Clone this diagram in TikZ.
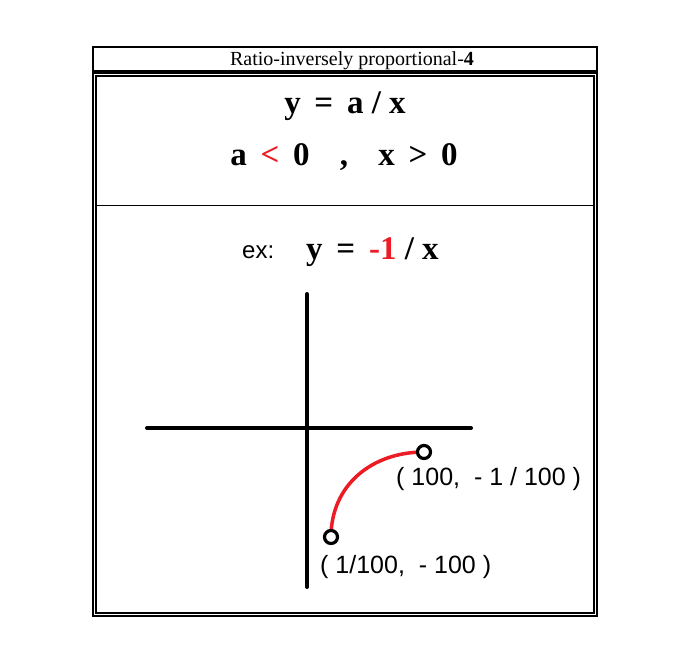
\documentclass[tikz,border=0pt]{standalone}
\usepackage{fontspec}
\setmainfont{Liberation Serif}
\newfontfamily\sansf{Liberation Sans}
\definecolor{myred}{RGB}{237,28,36}
\begin{document}
\begin{tikzpicture}[x=1pt,y=-1pt,
  frame/.style={draw=black,line width=1.2pt},
  formula/.style={font=\fontsize{33}{36}\selectfont\bfseries,inner sep=0pt,anchor=base},
  lbl/.style={font=\sansf\fontsize{25}{28}\selectfont,inner sep=0pt,anchor=base west},
  axis/.style={line width=4pt,line cap=round},
  pt/.style={circle,draw=black,fill=white,line width=3.2pt,minimum size=13pt,inner sep=0pt}]
\useasboundingbox (0,0) rectangle (692,668);
\fill[white] (0,0) rectangle (692,668);
% title
\draw[frame] (93,47) rectangle (597,71);
\node[font=\fontsize{20}{22}\selectfont,inner sep=0pt,anchor=base] (title) at (352,66) {Ratio-inversely proportional-\textbf{4}};
% double frame
\draw[frame] (93,73) rectangle (597,616);
\draw[frame] (96,76) rectangle (594,613);
\draw[line width=1pt] (96,205) -- (594,205);
% formulas
\node[formula] (f1) at (345,114) {y\,\ =\ \,a\ /\ x};
\node[formula] (f2) at (344,166) {a\ \,\textcolor{myred}{<}\ \,0\ \ \ \,,\ \ \ \,x\ \,>\ \,0};
\node[lbl,font=\sansf\fontsize{24}{26}\selectfont] (ex) at (242,258) {ex:};
\node[formula,anchor=base west] (f3) at (306,259) {y\ \,=\ \,\textcolor{myred}{-1}\ /\ x};
% axes
\coordinate (xl) at (147,428);
\coordinate (xr) at (471,428);
\coordinate (yt) at (307,294);
\coordinate (yb) at (307,587);
\draw[axis] (xl) -- (xr);
\draw[axis] (yt) -- (yb);
% curve
\coordinate (p1) at (331,537);
\coordinate (p2) at (424,452);
\draw[myred,line width=3.5pt] (p1) .. controls (331,485) and (372,452) .. (p2);
\node[pt] (c1) at (p1) {};
\node[pt] (c2) at (p2) {};
\node[lbl] (l2) at (396,485) {( 100,\ \ - 1 / 100 )};
\node[lbl] (l1) at (320,573) {( 1/100,\ \ - 100 )};
\end{tikzpicture}
\end{document}
